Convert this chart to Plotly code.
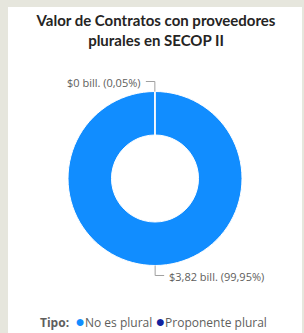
import math
import plotly.graph_objects as go

# ---- data ----
categories = ["No es plural", "Proponente plural"]
values = [3.82, 0.0019]            # valor en billones
value_labels = ["$3,82 bill.", "$0 bill."]
pct_labels = ["99,95%", "0,05%"]
colors = ["#118DFF", "#12239E"]
title_text = "Valor de Contratos con proveedores<br>plurales en SECOP II"
legend_title = "Tipo:"

W, H = 304, 333
FONT = "Open Sans"
GRAY = "#605E5C"
BG = "#E6E6DD"

# donut geometry (pixels)
cx, cy, R = 155, 178.5, 87

fig = go.Figure()
fig.add_trace(go.Pie(
    labels=categories, values=values, hole=0.5, sort=False,
    direction="clockwise", rotation=0,
    marker=dict(colors=colors, line=dict(color="white", width=1)),
    textinfo="none", hoverinfo="label+value+percent", showlegend=False,
    domain=dict(x=[(cx - R) / W, (cx + R) / W],
                y=[(H - cy - R) / H, (H - cy + R) / H]),
))


def px(x):
    return x / W


def py(y):
    return (H - y) / H


# leader lines + labels computed from slice mid-angles
total = sum(values)
start = 0.0
shapes = [dict(type="rect", xref="paper", yref="paper", layer="below",
               x0=8 / W, x1=302 / W, y0=0, y1=1 - 7 / H,
               fillcolor="white", line=dict(width=0))]
annotations = []
for v, vl, pl in zip(values, value_labels, pct_labels):
    frac = v / total
    mid = (start + frac / 2) * 2 * math.pi   # clockwise from top
    start += frac
    sx = cx + R * math.sin(mid)
    sy = cy - R * math.cos(mid)
    ex = cx + (R + 10) * math.sin(mid)
    ey = cy - (R + 10) * math.cos(mid)
    side = 1 if math.sin(mid) >= 0 else -1
    hx = ex + side * 9
    shapes.append(dict(type="path", xref="paper", yref="paper",
                       path=f"M {px(sx)} {py(sy)} L {px(ex)} {py(ey)} L {px(hx)} {py(ey)}",
                       line=dict(color="#A0A0A0", width=1)))
    annotations.append(dict(x=px(hx + side * 3), y=py(ey + 1), xref="paper", yref="paper",
                            text=f"{vl} ({pl})", showarrow=False,
                            xanchor="left" if side > 0 else "right", yanchor="middle",
                            font=dict(family=FONT, size=11, color=GRAY)))

# legend as a single line of text with coloured dots
legend_parts = [f"<b>{legend_title}</b> "]
for name, col in zip(categories, colors):
    legend_parts.append(f"<span style='color:{col};font-size:16px'>●</span>{name}")
annotations.append(dict(x=px(153), y=py(321), xref="paper", yref="paper",
                        text=" ".join(legend_parts), showarrow=False,
                        xanchor="center", yanchor="middle",
                        font=dict(family=FONT, size=12, color=GRAY)))

fig.update_layout(
    width=W, height=H,
    margin=dict(l=0, r=0, t=0, b=0, autoexpand=False),
    paper_bgcolor=BG, plot_bgcolor="rgba(0,0,0,0)",
    title=dict(text=title_text, x=px(156), xanchor="center", y=py(26), yanchor="middle",
               font=dict(family="Lato", size=15, color="#252423", weight="bold")),
    shapes=shapes, annotations=annotations,
    showlegend=False,
)

fig.write_html(
    "out.html",
    config={"displayModeBar": False},
    post_script=f"document.body.style.margin='0';document.body.style.background='{BG}';",
)
